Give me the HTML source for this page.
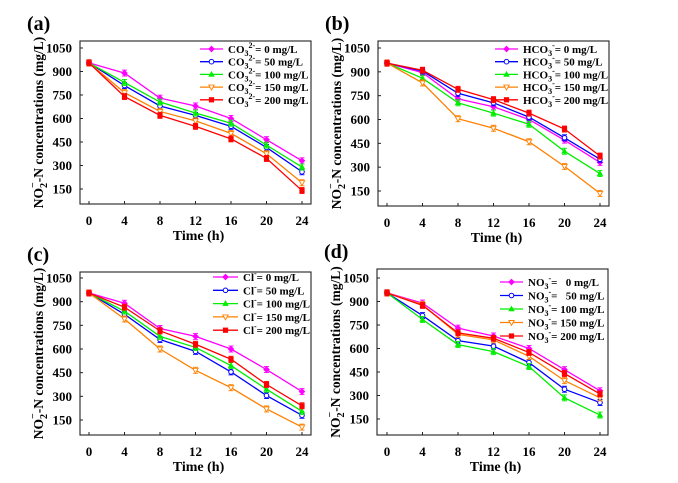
<!DOCTYPE html>
<html><head><meta charset="utf-8">
<style>
html,body{margin:0;padding:0;background:#fff;}
svg{display:block;}
svg text{font-family:"Liberation Serif","DejaVu Serif",serif;font-weight:bold;}
</style></head>
<body>
<svg id="fig" width="678" height="483" viewBox="0 0 678 483" xmlns="http://www.w3.org/2000/svg"></svg>
<script>
const categories = [0, 4, 8, 12, 16, 20, 24];
const yTicks = [150, 300, 450, 600, 750, 900, 1050];
const concLabels = ["0", "50", "100", "150", "200"];
const seriesA0 = [955, 890, 730, 680, 600, 465, 330];
const seriesA50 = [955, 810, 680, 620, 550, 415, 260];
const seriesA100 = [955, 830, 705, 635, 570, 430, 290];
const seriesA150 = [955, 765, 645, 585, 505, 375, 190];
const seriesA200 = [955, 740, 620, 550, 470, 345, 140];
const seriesB0 = [955, 895, 730, 680, 600, 470, 330];
const seriesB50 = [955, 905, 765, 705, 615, 485, 350];
const seriesB100 = [955, 860, 705, 640, 570, 400, 260];
const seriesB150 = [955, 830, 605, 545, 460, 305, 135];
const seriesB200 = [955, 910, 790, 725, 640, 540, 370];
const seriesC0 = [955, 890, 730, 680, 600, 470, 330];
const seriesC50 = [955, 820, 660, 585, 455, 305, 180];
const seriesC100 = [955, 840, 680, 610, 495, 345, 205];
const seriesC150 = [955, 790, 600, 465, 355, 220, 105];
const seriesC200 = [955, 865, 715, 630, 535, 375, 240];
const seriesD0 = [955, 890, 730, 680, 600, 465, 330];
const seriesD50 = [955, 810, 650, 615, 510, 340, 255];
const seriesD100 = [955, 785, 625, 580, 485, 285, 175];
const seriesD150 = [955, 880, 690, 655, 550, 395, 285];
const seriesD200 = [955, 875, 700, 665, 575, 440, 310];

const NS = "http://www.w3.org/2000/svg";
const svg = document.getElementById('fig');
const colors = ["#ff00ff", "#0000ff", "#00ee00", "#ff8000", "#ff0000"];
const markers = ["diamond", "circle", "tri", "dtri", "square"];

function mk(tag, attrs, parent, text) {
  const e = document.createElementNS(NS, tag);
  for (const k in attrs) e.setAttribute(k, attrs[k]);
  if (tag === "text") { e.style.fontFamily = '"Liberation Serif", "DejaVu Serif", serif'; e.style.fontWeight = "bold"; }
  if (text !== undefined) e.textContent = text;
  (parent || svg).appendChild(e);
  return e;
}

function marker(g, type, x, y, c) {
  let m;
  const s = 2.3;
  if (type === "circle") m = mk("circle", {cx: x, cy: y, r: s, fill: "#fff", stroke: c, "stroke-width": 1}, g);
  else if (type === "square") m = mk("rect", {x: x - s, y: y - s, width: 2 * s, height: 2 * s, fill: c, stroke: c, "stroke-width": 0.6}, g);
  else if (type === "diamond") m = mk("polygon", {points: `${x},${y-s-0.6} ${x+s+0.6},${y} ${x},${y+s+0.6} ${x-s-0.6},${y}`, fill: c, stroke: c, "stroke-width": 0.6}, g);
  else if (type === "tri") m = mk("polygon", {points: `${x},${y-s-0.6} ${x+s+0.4},${y+s-0.3} ${x-s-0.4},${y+s-0.3}`, fill: c, stroke: c, "stroke-width": 0.6}, g);
  else m = mk("polygon", {points: `${x},${y+s+0.6} ${x+s+0.4},${y-s+0.3} ${x-s-0.4},${y-s+0.3}`, fill: "#fff", stroke: c, "stroke-width": 0.9}, g);
  
  
}

function panel(p) {
  const g = mk("g", {});
  
  
  const xs = v => p.x0 + (v - 0) / 24 * (p.x24 - p.x0);
  const ys = v => p.y150 + (v - 150) / 900 * (p.y1050 - p.y150);
  const lab = mk("text", {x: p.fl - 53, y: p.ft - 11, "font-size": 20}, g, "(" + p.id + ")");
  
  
  const fr = mk("rect", {x: p.fl, y: p.ft, width: p.fr - p.fl, height: p.fb - p.ft, fill: "none", stroke: "#222", "stroke-width": 1.1}, g);
  
  
  yTicks.forEach(t => {
    const y = ys(t);
    mk("line", {x1: p.fl, x2: p.fl + 3, y1: y, y2: y, stroke: "#222"}, g);
    const tl = mk("text", {x: p.fl - 8, y: y + 4.5, "font-size": 13, "text-anchor": "end"}, g, String(t));
    
    
  });
  categories.forEach(t => {
    const x = xs(t);
    mk("line", {x1: x, x2: x, y1: p.fb, y2: p.fb - 3, stroke: "#222"}, g);
    const tl = mk("text", {x: x, y: p.fb + 21, "font-size": 13, "text-anchor": "middle"}, g, String(t));
    
    
  });
  const xt = mk("text", {x: (p.fl + p.fr) / 2 + 3, y: p.fb + 36, "font-size": 14, "text-anchor": "middle"}, g, "Time (h)");
  
  
  const yc = (p.ft + p.fb) / 2;
  const yt = mk("text", {x: 0, y: 0, "font-size": 13.5, "text-anchor": "middle", transform: `translate(${p.fl - 37},${yc}) rotate(-90)`}, g);
  
  
  mk("tspan", {}, yt, "NO");
  mk("tspan", {"font-size": 10, dy: 4}, yt, "2");
  mk("tspan", {"font-size": 10, dy: -11, dx: -5}, yt, "\u2212");
  mk("tspan", {dy: 7}, yt, "-N concentrations (mg/L)");

  p.series.forEach((s, i) => {
    const sg = mk("g", {}, g);
    
    
    const pts = s.map((v, j) => xs(categories[j]) + "," + ys(v)).join(" ");
    const pl = mk("polyline", {points: pts, fill: "none", stroke: colors[i], "stroke-width": 1.3}, sg);
    
    
    s.forEach((v, j) => {
      const x = xs(categories[j]), y = ys(v), e = 3;
      mk("line", {x1: x, x2: x, y1: y - e, y2: y + e, stroke: colors[i], "stroke-width": 0.9}, sg);
      mk("line", {x1: x - 2.5, x2: x + 2.5, y1: y - e, y2: y - e, stroke: colors[i], "stroke-width": 0.9}, sg);
      mk("line", {x1: x - 2.5, x2: x + 2.5, y1: y + e, y2: y + e, stroke: colors[i], "stroke-width": 0.9}, sg);
      marker(sg, markers[i], x, y, colors[i]);
    });
    const ly = p.ly + i * p.lstep;
    const le = mk("g", {}, g);
    
    
    mk("line", {x1: p.lx, x2: p.lx + p.lw, y1: ly, y2: ly, stroke: colors[i], "stroke-width": 1.3}, le);
    marker(le, markers[i], p.lx + p.lw / 2, ly, colors[i]);
    const t = mk("text", {x: p.lx + p.lw + 5, y: ly + 4, "font-size": 11}, le);
    p.legend(t, concLabels[i]);
  });
}

function legCO3(t, c) {
  mk("tspan", {}, t, "CO");
  mk("tspan", {"font-size": 8, dy: 3}, t, "3");
  mk("tspan", {"font-size": 8, dy: -8}, t, "2-");
  mk("tspan", {dy: 5}, t, "= " + c + " mg/L");
}
function legHCO3(t, c) {
  mk("tspan", {}, t, "HCO");
  mk("tspan", {"font-size": 8, dy: 3}, t, "3");
  mk("tspan", {"font-size": 8, dy: -8}, t, "-");
  mk("tspan", {dy: 5}, t, "= " + c + " mg/L");
}
function legCl(t, c) {
  mk("tspan", {}, t, "Cl");
  mk("tspan", {"font-size": 8, dy: -5}, t, "-");
  mk("tspan", {dy: 5}, t, "= " + c + " mg/L");
}
function legNO3(t, c) {
  mk("tspan", {}, t, "NO");
  mk("tspan", {"font-size": 8, dy: 3}, t, "3");
  mk("tspan", {"font-size": 8, dy: -8}, t, "-");
  mk("tspan", {dy: 5}, t, "= " + (c.length < 3 ? "\u2002" : "") + c + " mg/L");
}

panel({id: "a", fl: 80, fr: 311, ft: 41, fb: 204, x0: 89, x24: 302, y1050: 48, y150: 189,
  series: [seriesA0, seriesA50, seriesA100, seriesA150, seriesA200], lx: 200, lw: 23, ly: 49, lstep: 12.7, legend: legCO3});
panel({id: "b", fl: 378, fr: 609, ft: 41, fb: 206, x0: 387, x24: 600, y1050: 48, y150: 191,
  series: [seriesB0, seriesB50, seriesB100, seriesB150, seriesB200], lx: 495, lw: 23, ly: 49, lstep: 12.7, legend: legHCO3});
panel({id: "c", fl: 80, fr: 311, ft: 272, fb: 435, x0: 89, x24: 302, y1050: 278, y150: 420,
  series: [seriesC0, seriesC50, seriesC100, seriesC150, seriesC200], lx: 213, lw: 25, ly: 277, lstep: 13.3, legend: legCl});
panel({id: "d", fl: 377, fr: 608, ft: 269, fb: 435, x0: 387, x24: 600, y1050: 278, y150: 419,
  series: [seriesD0, seriesD50, seriesD100, seriesD150, seriesD200], lx: 500, lw: 23, ly: 282, lstep: 13.5, legend: legNO3});
</script>
</body></html>
